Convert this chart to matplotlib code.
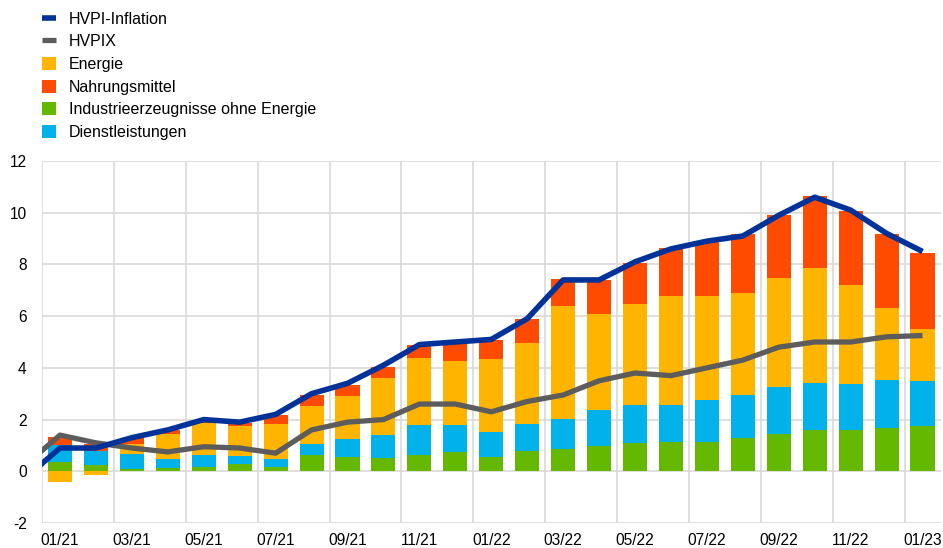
import numpy as np
import matplotlib
matplotlib.use('Agg')
import matplotlib.pyplot as plt

plt.rcParams['font.family'] = ['Liberation Sans', 'DejaVu Sans']
plt.rcParams['axes.unicode_minus'] = False

# monthly bars 01/21 .. 01/23
months = ['01/21', '02/21', '03/21', '04/21', '05/21', '06/21', '07/21', '08/21',
          '09/21', '10/21', '11/21', '12/21', '01/22', '02/22', '03/22', '04/22',
          '05/22', '06/22', '07/22', '08/22', '09/22', '10/22', '11/22', '12/22', '01/23']

# contributions (percentage points)
energie = [-0.41, -0.15, 0.42, 0.98, 1.23, 1.17, 1.38, 1.47, 1.65, 2.22, 2.59, 2.47, 2.81,
           3.12, 4.37, 3.71, 3.91, 4.21, 4.02, 3.96, 4.21, 4.46, 3.83, 2.80, 2.02]
nahrung = [0.32, 0.30, 0.23, 0.15, 0.15, 0.12, 0.34, 0.41, 0.43, 0.43, 0.50, 0.70, 0.76,
           0.92, 1.07, 1.31, 1.59, 1.86, 2.08, 2.26, 2.46, 2.76, 2.84, 2.87, 2.94]
industrie = [0.36, 0.24, 0.08, 0.13, 0.17, 0.29, 0.15, 0.62, 0.55, 0.53, 0.62, 0.76, 0.54,
             0.80, 0.88, 0.99, 1.10, 1.15, 1.15, 1.30, 1.46, 1.61, 1.61, 1.69, 1.75]
dienst = [0.64, 0.53, 0.57, 0.35, 0.45, 0.29, 0.31, 0.44, 0.71, 0.86, 1.16, 1.03, 0.98,
          1.04, 1.13, 1.38, 1.45, 1.40, 1.60, 1.64, 1.80, 1.81, 1.77, 1.83, 1.73]

# lines start one month earlier (12/20), cut off at the axis edge
hvpi = [-0.3, 0.9, 0.9, 1.3, 1.6, 2.0, 1.9, 2.2, 3.0, 3.4, 4.1, 4.9, 5.0,
        5.1, 5.9, 7.4, 7.4, 8.1, 8.6, 8.9, 9.1, 9.9, 10.6, 10.1, 9.2, 8.5]
hvpix = [0.2, 1.4, 1.1, 0.9, 0.75, 0.95, 0.9, 0.7, 1.6, 1.9, 2.0, 2.6, 2.6,
         2.3, 2.7, 2.95, 3.5, 3.8, 3.7, 4.0, 4.3, 4.8, 5.0, 5.0, 5.2, 5.25]

fig = plt.figure(figsize=(9.43, 5.48), dpi=100)
ax = fig.add_axes([42/943, 1-523/548, (940.5-42)/943, (523-161)/548])

x = np.arange(len(months))
w = 0.67
pos_base = np.zeros(len(months))
neg_base = np.zeros(len(months))
series = [(industrie, '#65b800', 'Industrieerzeugnisse ohne Energie'),
          (dienst, '#00b1ea', 'Dienstleistungen'),
          (energie, '#ffb400', 'Energie'),
          (nahrung, '#ff4b00', 'Nahrungsmittel')]
bars = {}
for vals, col, lab in series:
    v = np.array(vals)
    base = np.where(v >= 0, pos_base, neg_base)
    bars[lab] = ax.bar(x, v, w, bottom=base, color=col, label=lab, zorder=2, linewidth=0)
    pos_base = pos_base + np.where(v >= 0, v, 0)
    neg_base = neg_base + np.where(v < 0, v, 0)

xl = np.arange(-1, len(months))
l1, = ax.plot(xl, hvpi, color='#003299', lw=4, zorder=4, solid_capstyle='butt',
              label='HVPI-Inflation')
l2, = ax.plot(xl, hvpix, color='#5c5c5c', lw=3.8, zorder=3, solid_capstyle='butt',
              label='HVPIX')

ax.set_xlim(-0.5, len(months) - 0.5)
ax.set_ylim(-2, 12)
ax.set_yticks(np.arange(-2, 13, 2))
ax.set_xticks(x[::2])
ax.set_xticklabels(months[::2])
ax.tick_params(axis='both', length=0, labelsize=11.2, colors='black')
ax.tick_params(axis='y', pad=11)
ax.tick_params(axis='x', pad=7.5)

gc = '#d9d9d9'
for yv in np.arange(-2, 13, 2):
    ax.axhline(yv, color=gc, lw=1.2, zorder=1)
for xv in np.arange(-0.5, len(months) - 1, 2):
    ax.axvline(xv, color=gc, lw=1.2, zorder=1)
for s in ax.spines.values():
    s.set_visible(False)

handles = [l1, l2, bars['Energie'], bars['Nahrungsmittel'],
           bars['Industrieerzeugnisse ohne Energie'], bars['Dienstleistungen']]
fig.legend(handles=handles, labels=[h.get_label() for h in handles],
           loc='upper left', bbox_to_anchor=(42/943, 1-11.5/548), frameon=False,
           fontsize=11.5, borderpad=0, borderaxespad=0, handlelength=0.9,
           handleheight=0.88, handletextpad=0.8, labelspacing=0.48)

fig.savefig('out.png', dpi=100)
